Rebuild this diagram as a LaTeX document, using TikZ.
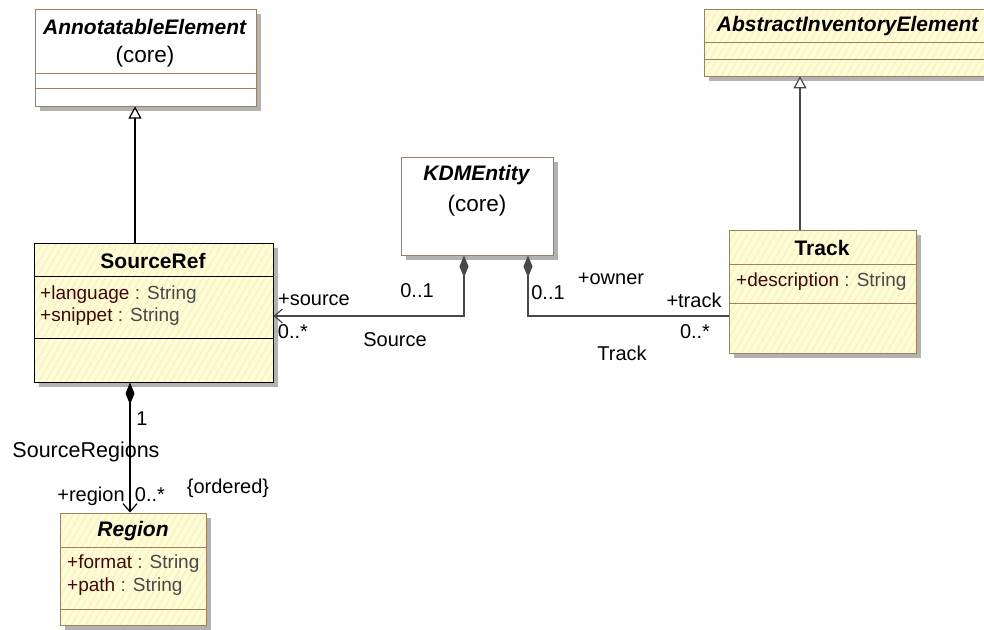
\documentclass[tikz,border=0pt]{standalone}
\usepackage{fontspec}
\setmainfont{Liberation Sans}
\usetikzlibrary{arrows.meta,patterns.meta,shadows,positioning}
\definecolor{edge}{RGB}{156,128,98}
\definecolor{note}{RGB}{255,252,212}
\definecolor{hatch}{RGB}{240,235,194}
\definecolor{shade}{RGB}{178,178,178}
\definecolor{attrname}{RGB}{64,8,8}
\definecolor{attrtype}{RGB}{72,72,72}
\definecolor{wire}{RGB}{72,72,72}

\begin{document}
\begin{tikzpicture}[x=1pt, y=-1pt,
  main/.style = {draw=edge, line width=1pt, inner sep=0pt,
    drop shadow={shadow xshift=5pt, shadow yshift=-5pt, opacity=1, fill=shade},
    preaction={fill=note}, pattern={Lines[angle=60,distance=6pt,line width=0.6pt]}, pattern color=hatch},
  core/.style = {draw=edge, line width=1pt, inner sep=0pt, fill=white,
    drop shadow={shadow xshift=5pt, shadow yshift=-5pt, opacity=1, fill=shade}},
  sep/.style = {draw=edge, line width=1pt},
  title/.style = {inner sep=0pt, font=\fontsize{21}{24}\selectfont\bfseries},
  pkg/.style = {inner sep=0pt, font=\fontsize{22.5}{26}\selectfont},
  attr/.style = {inner sep=0pt, anchor=west, font=\fontsize{19}{22}\selectfont},
  lbl/.style = {inner sep=0pt, font=\fontsize{20}{23}\selectfont},
  gen/.style = {line width=1.2pt, -{Triangle[open, length=12pt, width=13pt, fill=white]}},
  comp/.style = {line width=1.2pt, {Diamond[length=22pt, width=9pt]}-{Straight Barb[length=8pt, width=14pt]}}]

\useasboundingbox (0,0) rectangle (984,629);

\node[core, minimum width=221pt, minimum height=97pt] (1) at (145.5,57.5) {};
\node[main, minimum width=288pt, minimum height=67pt] (2) at (848,42.5) {};
\node[main, draw=black, minimum width=239pt, minimum height=139pt] (3) at (153.5,312.5) {};
\node[main, minimum width=187pt, minimum height=123pt] (4) at (822.5,291.5) {};
\node[core, minimum width=152pt, minimum height=98pt] (5) at (477,206) {};
\node[main, minimum width=146pt, minimum height=112pt] (6) at (133,569) {};

\draw[sep] ([yshift=-65pt]1.north west) -- ([yshift=-65pt]1.north east);
\draw[sep] ([yshift=-80pt]1.north west) -- ([yshift=-80pt]1.north east);
\draw[sep] ([yshift=-34pt]2.north west) -- ([yshift=-34pt]2.north east);
\draw[sep] ([yshift=-51pt]2.north west) -- ([yshift=-51pt]2.north east);
\draw[sep, draw=black] ([yshift=-34pt]3.north west) -- ([yshift=-34pt]3.north east);
\draw[sep, draw=black] ([yshift=-96pt]3.north west) -- ([yshift=-96pt]3.north east);
\draw[sep] ([yshift=-35pt]4.north west) -- ([yshift=-35pt]4.north east);
\draw[sep] ([yshift=-74pt]4.north west) -- ([yshift=-74pt]4.north east);
\draw[sep] ([yshift=-35pt]6.north west) -- ([yshift=-35pt]6.north east);
\draw[sep] ([yshift=-97pt]6.north west) -- ([yshift=-97pt]6.north east);

\node[title] (1n) at (145,27) {\textit{AnnotatableElement}};
\node[pkg] (1c) at (145,57) {(core)};
\node[title] (2n) at (848,26) {\textit{AbstractInventoryElement}};
\node[title] (3n) at (153,261) {SourceRef};
\node[attr] (3a) at (40,295) {\textcolor{attrname}{+language} \textcolor{attrtype}{: String}};
\node[attr] (3b) at (40,317) {\textcolor{attrname}{+snippet} \textcolor{attrtype}{: String}};
\node[title] (4n) at (822,248) {Track};
\node[attr] (4a) at (736,282) {\textcolor{attrname}{+description} \textcolor{attrtype}{: String}};
\node[title] (5n) at (477,175) {\textit{KDMEntity}};
\node[pkg] (5c) at (477,206) {(core)};
\node[title] (6n) at (133,531) {\textit{Region}};
\node[attr] (6a) at (67,564) {\textcolor{attrname}{+format} \textcolor{attrtype}{: String}};
\node[attr] (6b) at (67,587) {\textcolor{attrname}{+path} \textcolor{attrtype}{: String}};

\coordinate (g1) at (135,0);
\coordinate (g2) at (800,0);
\coordinate (j1) at (464,316);
\coordinate (j2) at (528,316);
\coordinate (j3) at (130,0);

\draw[gen] (3.north -| g1) -- (1.south -| g1);
\draw[gen, draw=wire] (4.north -| g2) -- (2.south -| g2);
\draw[comp, draw=wire] (5.south -| j1) |- (3.east |- j1);
\draw[line width=1.2pt, draw=wire, {Diamond[length=22pt, width=9pt]}-] (5.south -| j2) |- (4.west |- j2);
\draw[comp] (3.south -| j3) -- (6.north -| j3);

\node[lbl] (l1) at (314,300) {+source};
\node[lbl] (l2) at (417,291) {0..1};
\node[lbl] (l3) at (293,332) {0..*};
\node[lbl] (l4) at (395,340) {Source};
\node[lbl] (l5) at (548,293) {0..1};
\node[lbl] (l6) at (611,279) {+owner};
\node[lbl] (l7) at (694,300) {+track};
\node[lbl] (l8) at (695,332) {0..*};
\node[lbl] (l9) at (622,353) {Track};
\node[lbl] (l10) at (142,419) {1};
\node[lbl, font=\fontsize{21.5}{25}\selectfont] (l11) at (86,452) {SourceRegions};
\node[lbl] (l12) at (91,496) {+region};
\node[lbl] (l13) at (150,495) {0..*};
\node[lbl] (l14) at (228,488) {\{ordered\}};

\end{tikzpicture}
\end{document}
